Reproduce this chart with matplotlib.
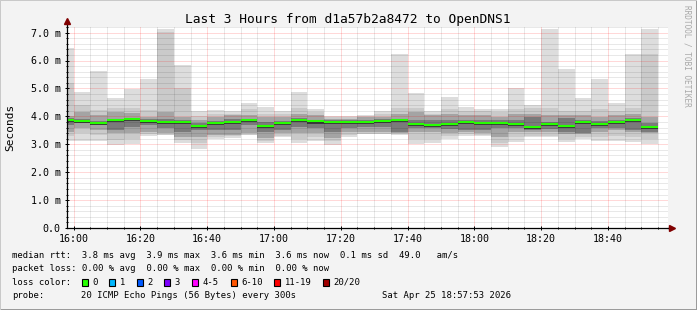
import numpy as np
import matplotlib
matplotlib.use("Agg")
import matplotlib.pyplot as plt
from matplotlib.patches import Rectangle

# ---------------- data ----------------
# bar start, minutes relative to 16:00 (each bar covers a 300 s step)
bar_start = [-5, 0, 5, 10, 15, 20, 25, 30, 35, 40, 45, 50, 55, 60, 65, 70, 75, 80,
             85, 90, 95, 100, 105, 110, 115, 120, 125, 130, 135, 140, 145, 150, 155, 160, 165, 170]
# median rtt (ms)
p_med = [3.88, 3.83, 3.76, 3.87, 3.90, 3.84, 3.81, 3.80, 3.66, 3.77, 3.80, 3.87, 3.66, 3.76, 3.86, 3.82, 3.80, 3.80,
         3.80, 3.84, 3.87, 3.72, 3.70, 3.72, 3.80, 3.76, 3.76, 3.72, 3.63, 3.72, 3.66, 3.80, 3.72, 3.80, 3.87, 3.63]
# sorted ping levels (ms): 20th, 19th, 17th, 14th ... 7th, 4th, 2nd, 1st
p_max = [6.43, 4.88, 5.62, 4.64, 4.97, 5.33, 7.12, 5.84, 4.19, 4.22, 4.19, 4.49, 4.34, 4.19, 4.88, 4.28, 4.01, 4.01,
         4.05, 4.19, 6.23, 4.84, 4.19, 4.70, 4.34, 4.26, 4.26, 5.00, 4.40, 7.12, 5.69, 4.64, 5.33, 4.46, 6.25, 7.12]
p_hi2 = [5.18, 4.40, 4.22, 4.30, 4.30, 4.22, 7.03, 5.00, 4.00, 4.10, 4.10, 4.28, 4.10, 4.10, 4.30, 4.16, 3.98, 3.98,
         4.00, 4.08, 4.30, 4.30, 4.10, 4.25, 4.20, 4.18, 4.15, 4.25, 4.30, 4.30, 4.20, 4.20, 4.25, 4.20, 4.30, 6.25]
p_hi4 = [4.01, 4.17, 4.04, 4.16, 4.12, 3.98, 4.16, 3.98, 3.86, 3.98, 4.04, 4.04, 3.98, 3.98, 4.10, 4.04, 3.92, 3.92,
         3.98, 3.98, 4.10, 4.16, 4.04, 4.10, 4.04, 4.04, 3.98, 4.10, 4.10, 4.04, 4.04, 4.04, 3.98, 4.04, 4.10, 3.98]
p_hi7 = [3.95, 3.92, 3.82, 3.92, 3.95, 3.90, 3.92, 3.87, 3.76, 3.82, 3.92, 3.92, 3.80, 3.84, 3.94, 3.88, 3.86, 3.88,
         3.88, 3.89, 3.92, 3.86, 3.86, 3.86, 3.86, 3.86, 3.86, 3.86, 3.98, 3.80, 3.95, 3.86, 3.84, 3.86, 3.95, 3.75]
p_lo7 = [3.70, 3.75, 3.70, 3.51, 3.63, 3.69, 3.57, 3.45, 3.51, 3.51, 3.51, 3.69, 3.45, 3.51, 3.63, 3.57, 3.45, 3.57,
         3.63, 3.63, 3.45, 3.57, 3.57, 3.55, 3.50, 3.50, 3.60, 3.57, 3.51, 3.55, 3.45, 3.39, 3.57, 3.60, 3.51, 3.45]
p_lo4 = [3.45, 3.57, 3.51, 3.39, 3.39, 3.45, 3.39, 3.27, 3.27, 3.33, 3.33, 3.39, 3.21, 3.39, 3.39, 3.39, 3.21, 3.45,
         3.45, 3.45, 3.39, 3.45, 3.45, 3.39, 3.45, 3.39, 3.27, 3.45, 3.45, 3.45, 3.35, 3.35, 3.45, 3.51, 3.45, 3.40]
p_lo2 = [3.30, 3.39, 3.33, 3.15, 3.20, 3.35, 3.34, 3.15, 3.03, 3.25, 3.28, 3.34, 3.12, 3.30, 3.20, 3.25, 3.10, 3.33,
         3.38, 3.38, 3.35, 3.20, 3.20, 3.30, 3.35, 3.33, 3.05, 3.25, 3.30, 3.30, 3.20, 3.25, 3.25, 3.30, 3.25, 3.20]
p_min = [3.13, 3.12, 3.13, 2.97, 3.00, 3.29, 3.32, 3.05, 2.82, 3.19, 3.23, 3.32, 3.05, 3.27, 3.05, 3.13, 2.97, 3.27,
         3.35, 3.35, 3.33, 3.00, 3.05, 3.20, 3.29, 3.29, 2.91, 3.09, 3.25, 3.27, 3.09, 3.18, 3.13, 3.13, 3.09, 3.00]

x_tick_pos = [0, 20, 40, 60, 80, 100, 120, 140, 160]
x_tick_lbl = ["16:00", "16:20", "16:40", "17:00", "17:20", "17:40", "18:00", "18:20", "18:40"]
y_tick_pos = [0, 1, 2, 3, 4, 5, 6, 7]
y_tick_lbl = ["0.0", "1.0 m", "2.0 m", "3.0 m", "4.0 m", "5.0 m", "6.0 m", "7.0 m"]

title = "Last 3 Hours from d1a57b2a8472 to OpenDNS1"
legend_lines = [
    "median rtt:  3.8 ms avg  3.9 ms max  3.6 ms min  3.6 ms now  0.1 ms sd  49.0   am/s",
    "packet loss: 0.00 % avg  0.00 % max  0.00 % min  0.00 % now",
]
loss_labels = ["0", "1", "2", "3", "4-5", "6-10", "11-19", "20/20"]
loss_colors = ["#26ff00", "#00b8ff", "#0059ff", "#7e00ff", "#ff00ff", "#ff5500", "#ff0000", "#a10000"]
probe_text = "20 ICMP Echo Pings (56 Bytes) every 300s"
date_text = "Sat Apr 25 18:57:53 2026"

# ---------------- figure ----------------
W, H = 697, 310
fig = plt.figure(figsize=(W / 100, H / 100), dpi=100, facecolor="#f3f3f3")
MONO = "DejaVu Sans Mono"


def fx(x):
    return x / W


def fy(y):
    return 1 - y / H


L, R, T, B = 67, 668, 27, 228
ax = fig.add_axes([fx(L), fy(B), (R - L) / W, (B - T) / H])
ax.set_facecolor("white")
ax.set_xlim(-2.0, 178.0)
ax.set_ylim(0, 7.2)

starts = np.array(bar_start, dtype=float)
layers = [(p_min, p_max, "#dddddd"), (p_lo2, p_hi2, "#cacaca"),
          (p_lo4, p_hi4, "#a4a4a4"), (p_lo7, p_hi7, "#7a7a7a")]
for lo, hi, col in layers:
    lo = np.array(lo)
    hi = np.array(hi)
    ax.bar(starts, hi - lo, bottom=lo, width=5, align="edge", color=col,
           linewidth=0, zorder=1, antialiased=False)

# dark core just beneath the median
med = np.array(p_med)
ax.bar(starts, 0.05, bottom=med - 0.08, width=5, align="edge", color="#3a3a3a",
       linewidth=0, zorder=1.5, antialiased=False)
# median line
ax.hlines(med, starts, starts + 5, colors="#26ff00", linewidth=1.5, zorder=3)

# ticks / grid
ax.set_xticks(x_tick_pos)
ax.set_xticklabels(x_tick_lbl, family=MONO, fontsize=7.2)
ax.set_xticks(np.arange(0, 180, 5), minor=True)
ax.set_yticks(y_tick_pos)
ax.set_yticklabels(y_tick_lbl, family=MONO, fontsize=7.2)
ax.set_yticks(np.arange(0, 7.21, 0.2), minor=True)
ax.tick_params(which="major", length=3, width=0.72, direction="inout", pad=3.0, colors="black")
ax.tick_params(which="minor", length=2, width=0.72, direction="inout")
ax.set_axisbelow(False)
ax.grid(which="minor", color="black", alpha=0.18, linewidth=0.72, linestyle=(0, (1, 1)), zorder=2)
ax.grid(which="major", color="red", alpha=0.3, linewidth=0.72, linestyle=(0, (1, 1)), zorder=2.1)

for s in ["top", "right"]:
    ax.spines[s].set_visible(False)
for s in ["left", "bottom"]:
    ax.spines[s].set_linewidth(0.9)
    ax.spines[s].set_zorder(4)

# axis extensions with arrows
ax.plot([0, 0], [1, 1.025], transform=ax.transAxes, color="black", lw=0.9, clip_on=False, zorder=4)
ax.plot([1, 1.006], [0, 0], transform=ax.transAxes, color="black", lw=0.9, clip_on=False, zorder=4)
ax.plot([0], [1.03], marker="^", markersize=4, color="#800000", transform=ax.transAxes, clip_on=False, zorder=5)
ax.plot([1.006], [0], marker=">", markersize=4, color="#800000", transform=ax.transAxes, clip_on=False, zorder=5)

# title, labels
fig.text(fx(347.5), fy(19.5), title, family=MONO, fontsize=9.3, ha="center", va="center")
fig.text(fx(10), fy(127), "Seconds", family=MONO, fontsize=8.0, rotation=90, ha="center", va="center")
fig.text(fx(687), fy(5), "RRDTOOL / TOBI OETIKER", family=MONO, fontsize=5.6, rotation=270,
         ha="center", va="top", color="#a8a8a8")

CW = 5.3
X0 = 11.8
LEG_FS = 6.4
fig.text(fx(X0), fy(255), legend_lines[0], family=MONO, fontsize=LEG_FS, ha="left", va="center")
fig.text(fx(X0), fy(268.5), legend_lines[1], family=MONO, fontsize=LEG_FS, ha="left", va="center")
fig.text(fx(X0), fy(282.3), "loss color:", family=MONO, fontsize=LEG_FS, ha="left", va="center")
box_x = [81.7, 109.3, 136.7, 164.3, 192.3, 230.7, 274.0, 322.7]
for bx, lab, col in zip(box_x, loss_labels, loss_colors):
    fig.patches.append(Rectangle((fx(bx), fy(285.5)), 6 / W, 6.5 / H, transform=fig.transFigure,
                                 facecolor=col, edgecolor="black", linewidth=0.8))
    fig.text(fx(bx + 10.5), fy(282.3), lab, family=MONO, fontsize=LEG_FS, ha="left", va="center")
fig.text(fx(X0), fy(296), "probe:", family=MONO, fontsize=LEG_FS, ha="left", va="center")
fig.text(fx(X0 + 13 * CW), fy(296), probe_text, family=MONO, fontsize=LEG_FS, ha="left", va="center")
fig.text(fx(510.5), fy(296), date_text, family=MONO, fontsize=LEG_FS, ha="right", va="center")

# 3D frame
fig.patches.append(Rectangle((0, 0), 1, 1, transform=fig.transFigure, fill=False,
                             edgecolor="#999999", linewidth=1.4))
fig.lines.append(plt.Line2D([0, 0, 1], [0, 1, 1], transform=fig.transFigure, color="#cbcbcb", lw=1.4))

fig.savefig("out.png", dpi=100, facecolor=fig.get_facecolor())
